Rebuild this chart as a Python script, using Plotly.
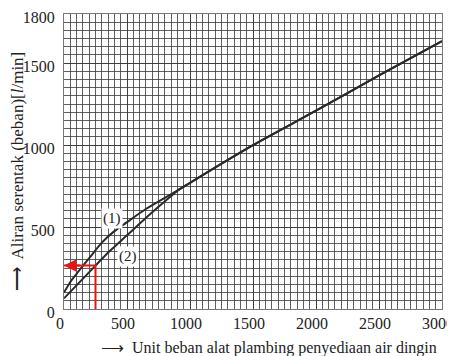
import plotly.graph_objects as go

# Data
units_1 = [0, 50, 100, 200, 300, 400, 500, 650, 800, 900, 1000, 1500, 2000, 2500, 3000]
flow_1 = [100, 165, 215, 310, 405, 475, 530, 610, 678, 722, 770, 1000, 1210, 1425, 1635]
units_2 = [0, 250, 365, 500, 700, 850, 900, 1000, 1500, 2000, 2500, 3000]
flow_2 = [65, 265, 355, 450, 590, 690, 722, 770, 1000, 1210, 1425, 1635]
example_unit = 250
example_flow = 265

x_ticks = [0, 500, 1000, 1500, 2000, 2500, 3000]
y_ticks = [0, 500, 1000, 1500, 1800]

SERIF = "Liberation Serif, Times New Roman, serif"
GRID = "rgba(55,55,55,0.8)"

fig = go.Figure()
fig.add_trace(go.Scatter(x=units_1, y=flow_1, mode="lines",
                         line=dict(color="#2a2a2a", width=2, shape="spline", smoothing=0.8),
                         hoverinfo="skip", showlegend=False))
fig.add_trace(go.Scatter(x=units_2, y=flow_2, mode="lines",
                         line=dict(color="#2a2a2a", width=2, shape="spline", smoothing=0.8),
                         hoverinfo="skip", showlegend=False))
# red guide: vertical line from axis up to curve (2), then left to the flow axis
fig.add_trace(go.Scatter(x=[example_unit, example_unit, 0], y=[0, example_flow, example_flow],
                         mode="lines", line=dict(color="#ee1111", width=2),
                         hoverinfo="skip", showlegend=False))
fig.add_annotation(x=0, y=example_flow, ax=example_unit * 0.55, ay=example_flow,
                   xref="x", yref="y", axref="x", ayref="y", text="",
                   showarrow=True, arrowhead=2, arrowsize=1.2, arrowwidth=2, arrowcolor="#ee1111")

fig.add_annotation(x=381, y=555, xref="x", yref="y", text="(1)", showarrow=False,
                   font=dict(family=SERIF, size=15, color="#222"), bgcolor="white")
fig.add_annotation(x=508, y=323, xref="x", yref="y", text="(2)", showarrow=False,
                   font=dict(family=SERIF, size=15, color="#222"), bgcolor="white")

axis_common = dict(
    showgrid=True, gridcolor=GRID, gridwidth=1,
    showline=True, linecolor="#777", linewidth=1, mirror=True,
    zeroline=False, ticks="", automargin=False, ticklabeloverflow="allow",
    tickfont=dict(family=SERIF, size=16, color="#222"),
)

# the page adds an 8px body margin, so the figure is sized to fit inside the window
fig.update_layout(
    width=447, height=348,
    margin=dict(l=56, r=13, t=6, b=47, autoexpand=False),
    paper_bgcolor="white", plot_bgcolor="white",
    font=dict(family=SERIF, size=16, color="#222"),
    xaxis=dict(range=[0, 3000], tickmode="array", tickvals=x_ticks,
               ticktext=[str(v) for v in x_ticks], ticklabelstandoff=0,
               ticklabelshift=-4,
               minor=dict(tickmode="linear", tick0=0, dtick=50, showgrid=True,
                          gridcolor=GRID, gridwidth=1),
               **axis_common),
    yaxis=dict(range=[0, 1800], tickmode="array", tickvals=y_ticks,
               ticktext=[str(v) for v in y_ticks], ticklabelstandoff=5,
               ticklabelshift=3,
               minor=dict(tickmode="linear", tick0=0, dtick=50, showgrid=True,
                          gridcolor=GRID, gridwidth=1),
               **axis_common),
)

# axis titles
fig.add_annotation(xref="paper", yref="paper", x=0, y=0, xanchor="left", yanchor="top",
                   xshift=35, yshift=-28, showarrow=False,
                   text="⟶  Unit beban alat plambing penyediaan air dingin",
                   font=dict(family=SERIF, size=16, color="#222"))
fig.add_annotation(xref="paper", yref="paper", x=0, y=0, xanchor="right", yanchor="bottom",
                   xshift=-35, yshift=16, showarrow=False, textangle=-90,
                   text="⟶  Aliran serentak (beban)[<i>l</i>/min]",
                   font=dict(family=SERIF, size=17, color="#222"))

fig.write_html("out.html")
